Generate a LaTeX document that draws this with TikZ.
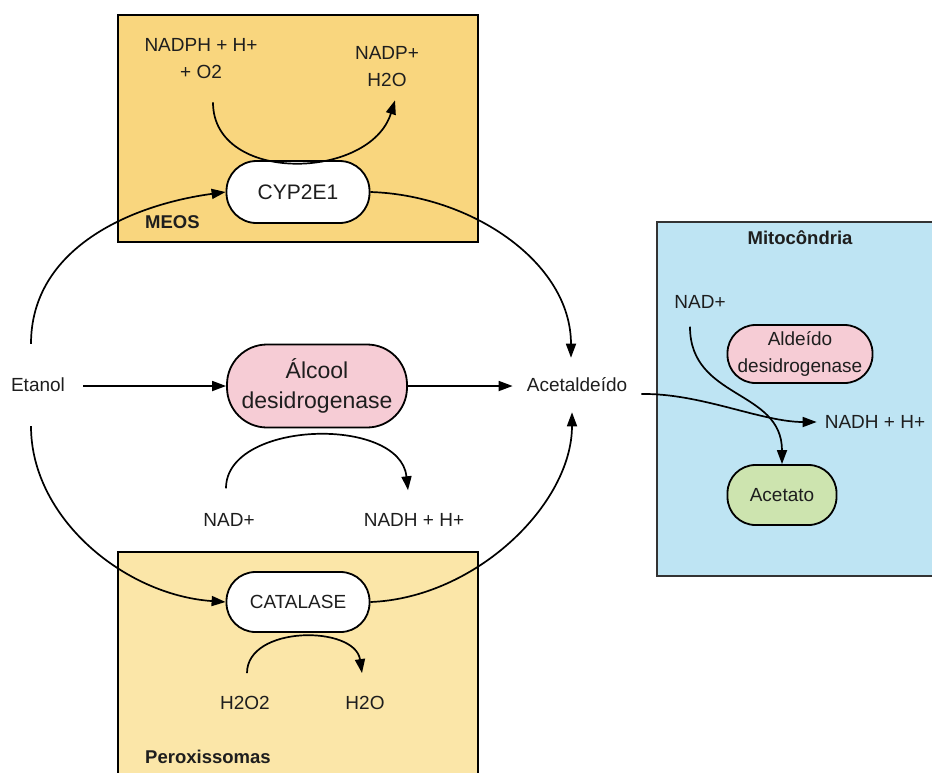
\documentclass[tikz,border=0pt]{standalone}
\usepackage{fontspec}
\setmainfont{Liberation Sans}
\usetikzlibrary{arrows.meta,calc}
\definecolor{meosfill}{RGB}{249,214,126}
\definecolor{perfill}{RGB}{251,230,168}
\definecolor{mitofill}{RGB}{190,228,243}
\definecolor{adhfill}{RGB}{246,204,213}
\definecolor{acefill}{RGB}{205,228,175}
\definecolor{txt}{RGB}{30,30,30}
\begin{document}
\begin{tikzpicture}[x=1pt,y=-1pt,
  lbl/.style={font=\fontsize{19}{27}\selectfont, text=txt, align=center, inner sep=0pt},
  boldlbl/.style={font=\fontsize{18.5}{22}\selectfont\bfseries, text=txt, inner sep=0pt, anchor=west},
  pillbox/.style={draw=black, line width=1.8pt, text=txt, align=center, inner sep=0pt},
  compartment/.style={draw=black, line width=2.8pt},
  conn/.style={line width=1.7pt, draw=black, -{Triangle[length=14pt,width=10pt]}}
]
\useasboundingbox (0,0) rectangle (932,772);
\clip (0,0) rectangle (932,772);

% compartments
\filldraw[compartment, fill=meosfill] (118,15) rectangle (478,242);
\filldraw[compartment, fill=perfill] (118,552) rectangle (478,800);
\filldraw[line width=1.7pt, draw=black!80, fill=mitofill] (657,222) rectangle (945,576);

\node[boldlbl] (meos) at (145,222) {MEOS};
\node[boldlbl] (perox) at (145,757) {Peroxissomas};
\node[boldlbl, anchor=center] (mitolbl) at (800,238) {Mitocôndria};

% enzymes
\node[pillbox, fill=white, minimum width=143pt, minimum height=62pt, rounded corners=30pt,
      font=\fontsize{21}{25}\selectfont] (cyp) at (298,192) {CYP2E1};
\node[pillbox, fill=adhfill, minimum width=180pt, minimum height=83pt, rounded corners=40pt,
      font=\fontsize{23}{30}\selectfont] (adh) at (317,386) {Álcool\\desidrogenase};
\node[pillbox, fill=white, minimum width=143pt, minimum height=60pt, rounded corners=29pt,
      font=\fontsize{19}{25}\selectfont] (cat) at (298,602) {CATALASE};
\node[pillbox, fill=adhfill, minimum width=145pt, minimum height=58pt, rounded corners=28pt,
      font=\fontsize{19}{27}\selectfont] (aldh) at (800,354) {Aldeído\\desidrogenase};
\node[pillbox, fill=acefill, minimum width=109pt, minimum height=60pt, rounded corners=28pt,
      font=\fontsize{19}{25}\selectfont] (acetato) at (782,495) {Acetato};

% metabolites
\node[lbl, inner xsep=18pt, inner ysep=34pt] (etanol) at (38,385) {Etanol};
\node[lbl, inner xsep=14pt, inner ysep=20pt] (acet) at (577,385) {Acetaldeído};
\node[lbl] (nadph) at (201,59) {NADPH + H+\\+ O2};
\node[lbl] (nadp) at (387,67) {NADP+\\H2O};
\node[lbl] (nad1) at (229,520) {NAD+};
\node[lbl] (nadh1) at (414,520) {NADH + H+};
\node[lbl] (h2o2) at (245,703) {H2O2};
\node[lbl] (h2o) at (365,703) {H2O};
\node[lbl] (nad2) at (700,302) {NAD+};
\node[lbl] (nadh2) at (875,422) {NADH + H+};

% main pathway
\draw[conn] (etanol.east |- adh.west) -- (adh.west);
\draw[conn] (adh.east) -- (acet.west |- adh.east);
\draw[conn] ([xshift=-7pt]etanol.north) .. controls +(0,-95) and +(-96,13) .. (cyp.west);
\draw[conn] (cyp.east) .. controls +(100,3) and +(0,-96) .. ([xshift=-6pt]acet.north);
\draw[conn] ([xshift=-7pt]etanol.south) .. controls +(0,92) and +(-101,-7) .. (cat.west);
\draw[conn] (cat.east) .. controls +(105,-4) and +(0,92) .. ([xshift=-5pt]acet.south);

% cofactors
\draw[conn] ($(nadph.south)+(12,23)$) .. controls +(0,82) and +(-25,80) .. ($(nadp.south)+(8,13)$);
\draw[conn] ($(nad1.north)+(-3,-25)$) .. controls +(0,-68) and +(-8,-75) .. ($(nadh1.north)+(-6,-23)$);
\draw[conn] ($(h2o2.north)+(2,-23)$) .. controls +(0,-48) and +(-7,-48) .. ($(h2o.north)+(-3,-23)$);

% mitochondria
\draw[conn] ([yshift=-9pt]acet.east) .. controls +(59,-1) and +(-55,0) .. ([xshift=-8pt]nadh2.west);
\draw[conn] ($(nad2.south)+(-10,18)$) .. controls +(0,73) and +(0,-75) .. (acetato.north);
\end{tikzpicture}
\end{document}
